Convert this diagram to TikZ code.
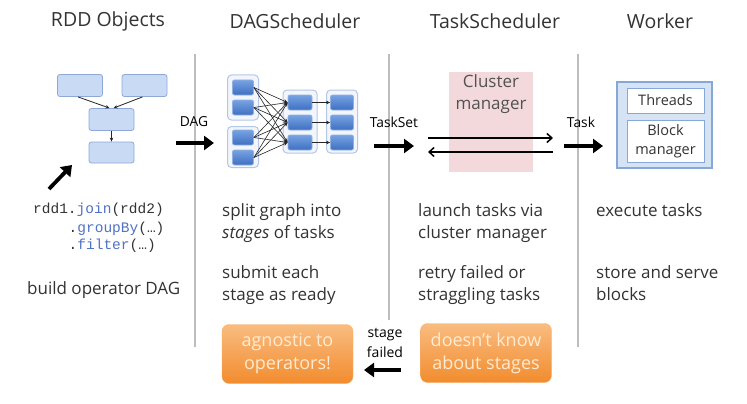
\documentclass[tikz,border=0pt]{standalone}
\usepackage{fontspec}
\setmainfont{Open Sans}
\setmonofont{Liberation Mono}
\usetikzlibrary{arrows.meta}
\definecolor{txt}{HTML}{333333}
\definecolor{sep}{HTML}{BDBDBD}
\definecolor{rddfill}{HTML}{C9DAF4}
\definecolor{rdddraw}{HTML}{8EA8D6}
\definecolor{bluetop}{HTML}{77A3E2}
\definecolor{bluebot}{HTML}{3F6FC2}
\definecolor{bluedraw}{HTML}{8FB0E0}
\definecolor{grpfill}{HTML}{F2F6FC}
\definecolor{grpdraw}{HTML}{B3C7E6}
\definecolor{wfill}{HTML}{D6E3F4}
\definecolor{wdraw}{HTML}{86A8D6}
\definecolor{pink}{HTML}{F3D9DC}
\definecolor{orangetop}{HTML}{F9BC80}
\definecolor{orangebot}{HTML}{F28C2E}
\definecolor{orangetxt}{HTML}{FFEBD2}
\definecolor{codeblue}{HTML}{4F72C4}
\begin{document}
\begin{tikzpicture}[x=1pt,y=-1pt,
  title/.style={font=\fontsize{19.5}{22}\selectfont, text=txt},
  body/.style={font=\fontsize{17}{22.5}\selectfont, text=txt, align=left, anchor=base west, inner sep=0pt},
  small/.style={font=\fontsize{13.8}{19}\selectfont, text=black, inner sep=0pt},
  seprule/.style={draw=sep, line width=1.3pt},
  rddbox/.style={draw=rdddraw, fill=rddfill, rounded corners=2.5pt, minimum width=45pt, minimum height=22pt, inner sep=0pt, line width=0.8pt},
  taskbox/.style={draw=bluedraw, top color=bluetop, bottom color=bluebot, rounded corners=2pt, minimum height=15pt, inner sep=0pt, line width=0.8pt},
  grpbox/.style={draw=grpdraw, fill=grpfill, rounded corners=4pt, inner sep=0pt, line width=1pt},
  bigarrow/.style={-{Triangle[length=10pt,width=14pt]}, line width=3.8pt, black},
  thinarrow/.style={-{Straight Barb[length=5pt,width=9pt]}, line width=1.5pt, black},
  smallarrow/.style={-{Stealth[length=4pt,width=3.5pt]}, line width=0.8pt, black!85},
  orangebox/.style={rounded corners=7pt, top color=orangetop, bottom color=orangebot, draw=orangetop!80!orangebot, text=orangetxt, font=\fontsize{18}{23}\selectfont, align=center, minimum width=131pt, minimum height=59pt, inner sep=0pt},
  wbox/.style={draw=wdraw, fill=white, line width=0.8pt, inner sep=0pt, align=center, font=\fontsize{14.5}{19}\selectfont, text=txt}
]
\useasboundingbox (0,0) rectangle (747,404);
\fill[white] (0,0) rectangle (747,404);

% titles
\node[title] (t1) at (108,21) {RDD Objects};
\node[title] (t2) at (295,21) {DAGScheduler};
\node[title] (t3) at (495,21) {TaskScheduler};
\node[title] (t4) at (660,21) {Worker};

% separators
\draw[seprule] (195,54) -- (195,347);
\draw[seprule] (389,54) -- (389,320);
\draw[seprule] (578,54) -- (578,347);

% RDD objects
\node[rddbox] (r1) at (80,85.5) {};
\node[rddbox] (r2) at (144.5,85.5) {};
\node[rddbox] (r3) at (111.5,119.5) {};
\node[rddbox, minimum height=21pt] (r4) at (111.5,152.5) {};
\draw[smallarrow] ([xshift=-2pt]r1.south) -- ([xshift=-2pt]r3.north);
\draw[smallarrow] ([xshift=-2pt]r2.south) -- ([xshift=2pt]r3.north);
\draw[smallarrow] (r3) -- (r4);
\coordinate (pa) at (49,189);
\coordinate (pb) at (72,165);
\draw[bigarrow] (pa) -- (pb);

\node[font=\fontsize{14.5}{17}\selectfont\ttfamily, anchor=base west, inner sep=0pt, text=txt] (c1) at (33,213) {rdd1.\textcolor{codeblue}{join}(rdd2)};
\node[font=\fontsize{14.5}{17}\selectfont\ttfamily, anchor=base west, inner sep=0pt, text=txt] (c2) at (68.5,232) {.\textcolor{codeblue}{groupBy}(…)};
\node[font=\fontsize{14.5}{17}\selectfont\ttfamily, anchor=base west, inner sep=0pt, text=txt] (c3) at (68.5,249) {.\textcolor{codeblue}{filter}(…)};
\node[body] (b1) at (27,294) {build operator DAG};

% DAG arrow
\coordinate (da) at (176,143);
\coordinate (db) at (214,143);
\draw[bigarrow] (da) -- (db);
\node[small] (dagl) at (194,122) {DAG};

% DAG scheduler graph
\node[grpbox, minimum width=31pt, minimum height=45pt] (g1) at (243,97.5) {};
\node[grpbox, minimum width=31pt, minimum height=41pt] (g2) at (243,147) {};
\node[grpbox, minimum width=34pt, minimum height=63pt] (g3) at (300,121.5) {};
\node[grpbox, minimum width=31pt, minimum height=63pt] (g4) at (342,121.5) {};
\node[taskbox, minimum width=21pt] (l1) at (243,87.5) {};
\node[taskbox, minimum width=21pt] (l2) at (243,107.5) {};
\node[taskbox, minimum width=21pt] (l3) at (243,137.5) {};
\node[taskbox, minimum width=21pt] (l4) at (243,157.5) {};
\node[taskbox, minimum width=24pt] (m1) at (300,102.5) {};
\node[taskbox, minimum width=24pt] (m2) at (300,122.5) {};
\node[taskbox, minimum width=24pt] (m3) at (300,142.5) {};
\node[taskbox, minimum width=23pt] (q1) at (342,102.5) {};
\node[taskbox, minimum width=23pt] (q2) at (342,122.5) {};
\node[taskbox, minimum width=23pt] (q3) at (342,142.5) {};
\foreach \a in {l1,l2,l3,l4}{
  \foreach \b in {m1,m2,m3}{
    \draw[smallarrow, line width=0.6pt] (\a.east) -- (\b.west);
  }
}
\draw[smallarrow] (m1) -- (q1);
\draw[smallarrow] (m2) -- (q2);
\draw[smallarrow] (m3) -- (q3);

% TaskSet arrow
\coordinate (ta) at (374,146);
\coordinate (tb) at (414,146);
\draw[bigarrow] (ta) -- (tb);
\node[small] (tsl) at (394,122) {TaskSet};

% cluster manager
\fill[pink] (449,72) rectangle (533,172);
\node[font=\fontsize{17}{22}\selectfont, text=txt!85, align=center, inner sep=0pt] (cm) at (491,94) {Cluster\\manager};
\coordinate (ca) at (428,138);
\coordinate (cb) at (553,138);
\coordinate (cc) at (553,152);
\coordinate (cd) at (428,152);
\draw[thinarrow] (ca) -- (cb);
\draw[thinarrow] (cc) -- (cd);

% Task arrow
\coordinate (ka) at (564,146);
\coordinate (kb) at (603,146);
\draw[bigarrow] (ka) -- (kb);
\node[small] (tkl) at (581,122) {Task};

% worker
\node[draw=wdraw, fill=wfill, line width=1.3pt, minimum width=95pt, minimum height=86pt, inner sep=0pt] (w) at (664.5,125) {};
\node[wbox, minimum width=77pt, minimum height=25pt] (th) at (665.5,100.5) {Threads};
\node[wbox, minimum width=77pt, minimum height=42pt] (bm) at (665.5,141) {Block\\manager};

% descriptions
\node[body] (s1) at (222,238.5) {split graph into\\\textit{stages} of tasks};
\node[body] (s2) at (222,300.5) {submit each\\stage as ready};
\node[body] (s3) at (418,238.5) {launch tasks via\\cluster manager};
\node[body] (s4) at (418,300.5) {retry failed or\\straggling tasks};
\node[body] (s5) at (596,216) {execute tasks};
\node[body] (s6) at (596,300.5) {store and serve\\blocks};

% orange boxes
\node[orangebox] (o1) at (287.5,354) {agnostic to\\operators!};
\node[orangebox] (o2) at (486,353) {doesn’t know\\about stages};
\node[small, align=center, font=\fontsize{14}{20}\selectfont] (sf) at (385,343) {stage\\failed};
\coordinate (fa) at (401,370);
\coordinate (fb) at (364,370);
\draw[bigarrow, line width=3.3pt] (fa) -- (fb);
\end{tikzpicture}
\end{document}
